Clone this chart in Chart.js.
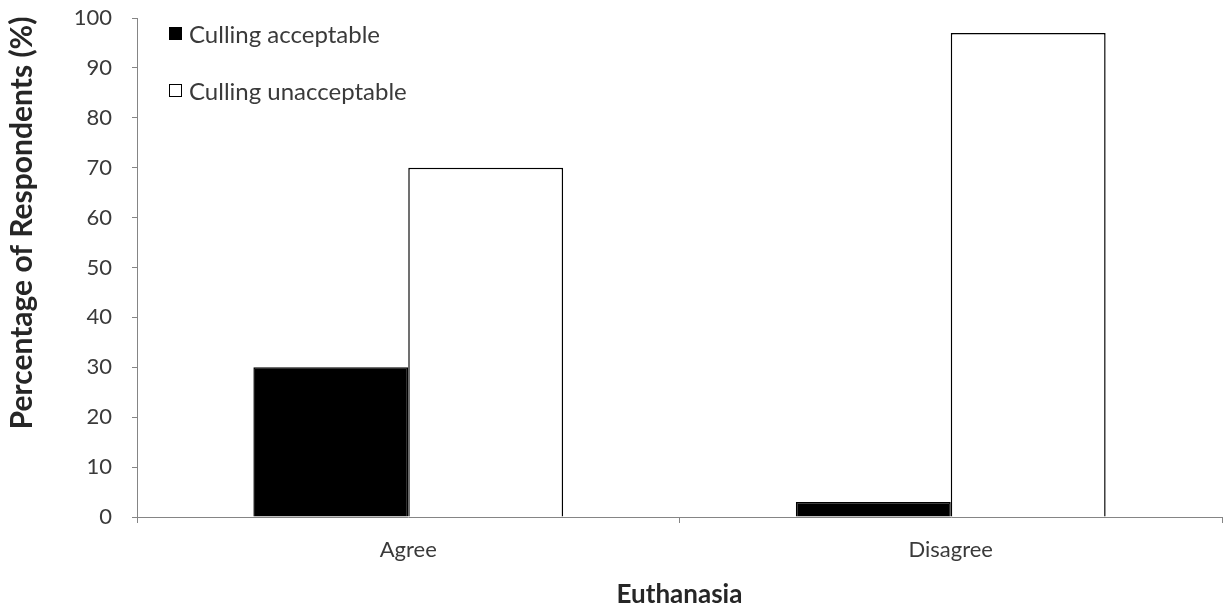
<!DOCTYPE html>
<html>
<head>
<meta charset="utf-8">
<script src="https://cdn.jsdelivr.net/npm/chart.js@4/dist/chart.umd.min.js"></script>
<style>
  html, body { margin: 0; padding: 0; background: #fff; }
  #wrap { width: 1223px; height: 610px; }
</style>
</head>
<body>
<div id="wrap"><canvas id="euthChart" width="1223" height="610"></canvas></div>
<script>
// Chart labels
const categories = ['Agree', 'Disagree'];
const seriesNames = ['Culling acceptable', 'Culling unacceptable'];
const yTitle = 'Percentage of Respondents (%)';

// Chart data (% of respondents)
const acceptable = [30, 3];
const unacceptable = [70, 97];

const fontFamily = 'Lato, "Open Sans", sans-serif';
const textColor = '#3a3a3a';
const titleColor = '#262626';
const axisColor = '#858585';

// Legend drawn inside the plot, top left, plus the vertical axis title
const innerLegend = {
  id: 'innerLegend',
  afterDraw(chart) {
    const ctx = chart.ctx;
    const area = chart.chartArea;
    ctx.save();
    ctx.font = '24px ' + fontFamily;
    ctx.textBaseline = 'middle';
    chart.data.datasets.forEach((ds, i) => {
      const x = area.left + 32;
      const y = area.top + 16 + i * 57;
      ctx.fillStyle = ds.backgroundColor;
      ctx.fillRect(x, y - 7, 13, 13);
      ctx.strokeStyle = '#000';
      ctx.lineWidth = 1;
      ctx.strokeRect(x + 0.5, y - 6.5, 12, 12);
      ctx.fillStyle = textColor;
      ctx.fillText(ds.label, x + 20, y + 1);
    });

    // y axis title, sits a little above the plot centre
    ctx.translate(22, area.top + 205);
    ctx.rotate(-Math.PI / 2);
    ctx.font = 'bold 30px ' + fontFamily;
    ctx.textAlign = 'center';
    ctx.fillStyle = titleColor;
    ctx.fillText(yTitle, 0, 0);
    ctx.restore();
  }
};

const data = {
  labels: categories,
  datasets: [
    {
      label: seriesNames[0],
      data: acceptable,
      backgroundColor: '#000000',
      borderColor: '#000000',
      borderWidth: 1.5
    },
    {
      label: seriesNames[1],
      data: unacceptable,
      backgroundColor: '#ffffff',
      borderColor: '#000000',
      borderWidth: 1.5
    }
  ]
};

const config = {
  type: 'bar',
  data: data,
  options: {
    responsive: false,
    animation: false,
    layout: { padding: { top: 18, right: 1, left: 0, bottom: 0 } },
    datasets: {
      bar: { categoryPercentage: 0.571, barPercentage: 1.0 }
    },
    plugins: {
      legend: { display: false },
      tooltip: { enabled: false },
      title: { display: false }
    },
    scales: {
      x: {
        offset: true,
        grid: {
          offset: true,
          drawOnChartArea: false,
          drawTicks: true,
          tickLength: 6,
          color: axisColor
        },
        border: { color: axisColor, width: 1 },
        ticks: {
          color: textColor,
          font: { family: fontFamily, size: 22 },
          padding: 14
        },
        title: {
          display: true,
          text: 'Euthanasia',
          color: titleColor,
          font: { family: fontFamily, size: 26, weight: 'bold' },
          padding: { top: 0, bottom: 0 }
        },
        afterFit(scale) {
          scale.height = 93;
          scale.paddingLeft = 0;
          scale.paddingRight = 0;
        }
      },
      y: {
        min: 0,
        max: 100,
        ticks: {
          stepSize: 10,
          color: textColor,
          font: { family: fontFamily, size: 22 },
          padding: 20
        },
        grid: {
          drawOnChartArea: false,
          drawTicks: true,
          tickLength: 5,
          color: axisColor
        },
        border: { color: axisColor, width: 1 },
        afterFit(scale) {
          scale.width = 137;
          scale.paddingTop = 0;
          scale.paddingBottom = 0;
        }
      }
    }
  },
  plugins: [innerLegend]
};

new Chart(document.getElementById('euthChart'), config);
</script>
</body>
</html>
